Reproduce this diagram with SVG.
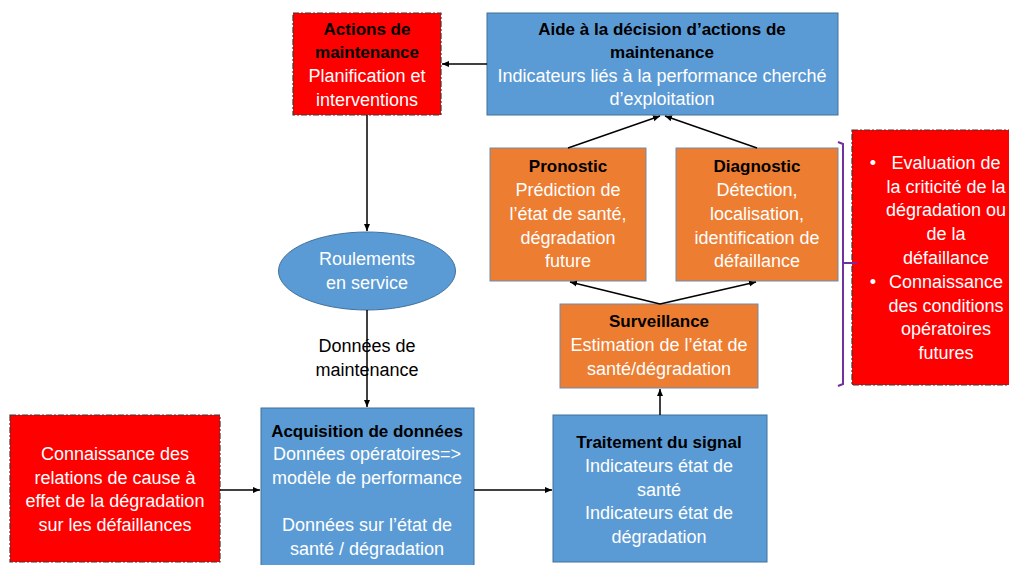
<svg xmlns="http://www.w3.org/2000/svg" width="1009" height="565" viewBox="0 0 1009 565">
<defs>
<marker id="arr" markerWidth="8" markerHeight="8" refX="7" refY="4" orient="auto" markerUnits="userSpaceOnUse">
<path d="M0,1 L7,4 L0,7 Z" fill="#000"/>
</marker>
<style>
text{font-family:"Liberation Sans",Arial,sans-serif;font-size:18px;text-anchor:middle}
.t{font-weight:bold;fill:#000;font-size:17px}
.w{fill:#fff}
.k{fill:#000}
.blue{fill:#5B9BD5;stroke:#41719C;stroke-width:1}
.orange{fill:#ED7D31;stroke:#6F8CAE;stroke-width:1}
.red{fill:#FF0000;stroke:#3A3A3A;stroke-width:1.2;stroke-dasharray:6 2 2 2}
.c line{stroke:#000;stroke-width:1.5;marker-end:url(#arr)}
</style>
</defs>
<rect width="1009" height="565" fill="#fff"/>

<g id="actions">
<rect class="red" x="293" y="13" width="148" height="102"/>
<text class="t" x="367" y="35">Actions de</text>
<text class="t" x="367" y="58">maintenance</text>
<text class="w" x="367" y="82">Planification et</text>
<text class="w" x="367" y="106">interventions</text>
</g>

<g id="aide">
<rect class="blue" x="487" y="13" width="351" height="102"/>
<text class="t" x="662" y="35">Aide à la décision d’actions de</text>
<text class="t" x="662" y="58">maintenance</text>
<text class="w" x="662" y="82">Indicateurs liés à la performance cherché</text>
<text class="w" x="662" y="105">d’exploitation</text>
</g>

<g id="pronostic">
<rect class="orange" x="490" y="148" width="156" height="133"/>
<text class="t" x="568" y="172">Pronostic</text>
<text class="w" x="568" y="196">Prédiction de</text>
<text class="w" x="568" y="220">l’état de santé,</text>
<text class="w" x="568" y="244">dégradation</text>
<text class="w" x="568" y="267">future</text>
</g>

<g id="diagnostic">
<rect class="orange" x="676" y="148" width="162" height="133"/>
<text class="t" x="757" y="172">Diagnostic</text>
<text class="w" x="757" y="196">Détection,</text>
<text class="w" x="757" y="220">localisation,</text>
<text class="w" x="757" y="244">identification de</text>
<text class="w" x="757" y="267">défaillance</text>
</g>

<g id="surveillance">
<rect class="orange" x="560" y="304" width="198" height="84"/>
<text class="t" x="659" y="327">Surveillance</text>
<text class="w" x="659" y="351">Estimation de l’état de</text>
<text class="w" x="659" y="375">santé/dégradation</text>
</g>

<g id="criticite">
<rect class="red" x="852" y="130" width="170" height="255"/>
<text class="w" x="873" y="169">•</text>
<text class="w" x="946" y="169">Evaluation de</text>
<text class="w" x="946" y="193">la criticité de la</text>
<text class="w" x="946" y="216">dégradation ou</text>
<text class="w" x="946" y="240">de la</text>
<text class="w" x="946" y="264">défaillance</text>
<text class="w" x="873" y="288">•</text>
<text class="w" x="946" y="288">Connaissance</text>
<text class="w" x="946" y="312">des conditions</text>
<text class="w" x="946" y="335">opératoires</text>
<text class="w" x="946" y="359">futures</text>
</g>

<g id="bracket">
<path d="M838,142 L843,144 L843,384 L838,386 M843,263 L857,263" fill="none" stroke="#7030A0" stroke-width="2"/>
</g>

<g id="roulements">
<ellipse class="blue" cx="367" cy="271" rx="88.5" ry="39"/>
<text class="w" x="367" y="265">Roulements</text>
<text class="w" x="367" y="289">en service</text>
</g>

<g id="connaissance">
<rect class="red" x="10" y="415" width="210" height="147"/>
<text class="w" x="115" y="460">Connaissance des</text>
<text class="w" x="115" y="484">relations de cause à</text>
<text class="w" x="115" y="507">effet de la dégradation</text>
<text class="w" x="115" y="531">sur les défaillances</text>
</g>

<g id="acquisition">
<rect class="blue" x="261" y="408" width="213" height="165"/>
<text class="t" x="367" y="437">Acquisition de données</text>
<text class="w" x="367" y="460">Données opératoires=&gt;</text>
<text class="w" x="367" y="484">modèle de performance</text>
<text class="w" x="367" y="531">Données sur l’état de</text>
<text class="w" x="367" y="555">santé / dégradation</text>
</g>

<g id="traitement">
<rect class="blue" x="553" y="415" width="214" height="147"/>
<text class="t" x="659" y="448">Traitement du signal</text>
<text class="w" x="659" y="472">Indicateurs état de</text>
<text class="w" x="659" y="496">santé</text>
<text class="w" x="659" y="519">Indicateurs état de</text>
<text class="w" x="659" y="543">dégradation</text>
</g>

<g id="connectors" class="c">
<line x1="487" y1="64" x2="442" y2="64"/>
<line x1="367" y1="115" x2="367" y2="231"/>
<line x1="367" y1="310" x2="367" y2="407"/>
<line x1="220" y1="490" x2="260" y2="490"/>
<line x1="474" y1="490" x2="552" y2="490"/>
<line x1="660" y1="415" x2="660" y2="389"/>
<line x1="660" y1="304" x2="570" y2="282"/>
<line x1="660" y1="304" x2="756" y2="282"/>
<line x1="568" y1="148" x2="660" y2="116"/>
<line x1="757" y1="148" x2="665" y2="116"/>
</g>

<g id="label">
<text class="k" x="367" y="352">Données de</text>
<text class="k" x="367" y="376">maintenance</text>
</g>
</svg>
